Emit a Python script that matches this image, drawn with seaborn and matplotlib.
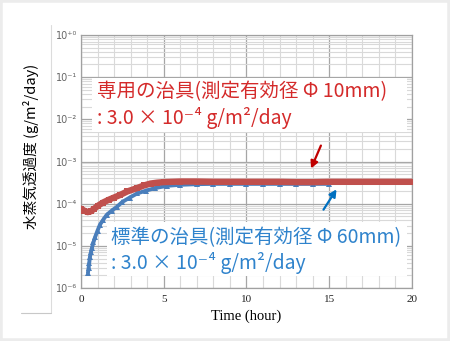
import numpy as np
import pandas as pd
import seaborn as sns
import matplotlib
matplotlib.use("Agg")
import matplotlib.pyplot as plt
from matplotlib.patches import Rectangle
from matplotlib.lines import Line2D

# ---- data ----
red_t = [0.0, 0.2, 0.4, 0.6, 0.8, 1.0, 1.3, 1.7, 2.0, 2.35, 2.8, 3.4, 3.8, 4.2, 4.6, 5.0, 5.5, 6, 7, 8, 9, 10,
         11, 12, 13, 14, 15, 16, 17, 18, 19, 20]
red_v = [7.6e-5, 6.8e-5, 6.3e-5, 6.6e-5, 7.6e-5, 8.8e-5, 1.05e-4, 1.25e-4, 1.4e-4, 1.6e-4, 1.95e-4, 2.35e-4,
         2.7e-4, 3.0e-4, 3.15e-4, 3.25e-4, 3.3e-4, 3.35e-4, 3.35e-4, 3.3e-4, 3.3e-4, 3.3e-4,
         3.3e-4, 3.3e-4, 3.25e-4, 3.25e-4, 3.3e-4, 3.3e-4, 3.3e-4, 3.3e-4, 3.3e-4, 3.3e-4]
blue_t = [0.42, 0.46, 0.5, 0.54, 0.6, 0.66, 0.75, 0.85, 1.0, 1.15, 1.35, 1.55, 1.85, 2.15, 2.5, 2.95, 3.4,
          3.95, 4.5, 5.2, 6, 7, 8, 9, 10, 11, 12, 13, 14, 15]
blue_v = [2.3e-6, 3.0e-6, 4.0e-6, 5.5e-6, 7.0e-6, 8.9e-6, 1.2e-5, 1.6e-5, 2.3e-5, 3.2e-5, 4.2e-5, 5.4e-5,
          6.8e-5, 8.3e-5, 1.1e-4, 1.4e-4, 1.75e-4, 2.05e-4, 2.35e-4, 2.65e-4, 2.8e-4, 2.9e-4, 2.95e-4,
          2.95e-4, 2.95e-4, 2.95e-4, 2.95e-4, 2.95e-4, 2.95e-4, 2.95e-4]

x_ticks = [0, 5, 10, 15, 20]
y_ticks = [1e-6, 1e-5, 1e-4, 1e-3, 1e-2, 1e-1, 1e0]
y_tick_labels = ["10⁻⁶", "10⁻⁵", "10⁻⁴", "10⁻³", "10⁻²", "10⁻¹", "10⁺⁰"]

red_line1 = "専用の治具(測定有効径 Φ 10mm)"
red_line2 = ": 3.0 × 10⁻⁴ g/m²/day"
blue_line1 = "標準の治具(測定有効径 Φ 60mm)"
blue_line2 = ": 3.0 × 10⁻⁴ g/m²/day"
x_label = "Time (hour)"
y_label = "水蒸気透過度 (g/m²/day)"

cjk = ["Noto Sans CJK JP", "DejaVu Sans"]
serif = ["Liberation Serif", "DejaVu Serif"]

sns.set_theme(style="white")
plt.rcParams["font.family"] = cjk

W, H = 450, 341
fig = plt.figure(figsize=(W / 100, H / 100), dpi=100, facecolor="white")
ax = fig.add_axes([81 / W, 1 - 288 / H, 331 / W, 253 / H])

red_df = pd.DataFrame({"t": red_t, "v": red_v})
blue_df = pd.DataFrame({"t": blue_t, "v": blue_v})

sns.lineplot(data=blue_df, x="t", y="v", ax=ax, color="#4a7ebb", lw=2.8, marker="^",
             markersize=5, markeredgewidth=0, zorder=4)
sns.lineplot(data=red_df, x="t", y="v", ax=ax, color="#c0504d", lw=4.6, marker="s",
             markersize=5, markeredgewidth=0, zorder=5)

ax.set_yscale("log")
ax.set_xlim(0, 20)
ax.set_ylim(1e-6, 1e0)
ax.set_xticks(x_ticks)
ax.set_xticklabels([str(v) for v in x_ticks], family=serif, fontsize=8, color="#222222")
ax.set_xticks(np.arange(0, 21, 1), minor=True)
ax.set_yticks(y_ticks)
ax.set_yticklabels(y_tick_labels, family=["DejaVu Sans"], fontsize=7, color="#666666")
ax.yaxis.set_minor_locator(matplotlib.ticker.LogLocator(base=10, subs=np.arange(2, 10), numticks=20))
ax.yaxis.set_minor_formatter(matplotlib.ticker.NullFormatter())
ax.tick_params(axis="both", which="both", length=0)
ax.tick_params(axis="x", pad=5)
ax.tick_params(axis="y", pad=3)

ax.grid(True, which="major", color="#a6a6a6", lw=0.9, zorder=0)
ax.grid(True, which="minor", color="#d9d9d9", lw=0.8, zorder=0)
ax.set_axisbelow(True)
for s in ax.spines.values():
    s.set_color("#a0a0a0")
    s.set_linewidth(0.9)

ax.set_xlabel(x_label, family=serif, fontsize=10.5, color="black", labelpad=4)
ax.set_ylabel(y_label, family=cjk, fontsize=10.5, color="black")
ax.yaxis.set_label_coords(-(81 - 39) / 331, 1 - (146 - 35) / 253)

# white label boxes
ax.add_patch(Rectangle((0.033, 0.617), 0.952, 0.213, transform=ax.transAxes,
                       facecolor="white", edgecolor="none", zorder=2))
ax.add_patch(Rectangle((0.0785, 0.047), 0.9065, 0.214, transform=ax.transAxes,
                       facecolor="white", edgecolor="none", zorder=2))

def fy(py):
    return 1 - (py - 35) / 253

def fx(px):
    return (px - 81) / 331

red_c = "#d42a2a"
blue_c = "#2f83cc"
ax.text(fx(97), fy(92), red_line1, transform=ax.transAxes, color=red_c, fontsize=14,
        ha="left", va="center", family=cjk, zorder=6)
ax.text(fx(97), fy(118), red_line2, transform=ax.transAxes, color=red_c, fontsize=14,
        ha="left", va="center", family=cjk, zorder=6)
ax.text(fx(111), fy(238), blue_line1, transform=ax.transAxes, color=blue_c, fontsize=14,
        ha="left", va="center", family=cjk, zorder=6)
ax.text(fx(111), fy(263), blue_line2, transform=ax.transAxes, color=blue_c, fontsize=14,
        ha="left", va="center", family=cjk, zorder=6)

# arrows
ax.annotate("", xy=(fx(310), fy(171)), xytext=(fx(322), fy(143)), xycoords="axes fraction",
            textcoords="axes fraction",
            arrowprops=dict(arrowstyle="-|>,head_length=0.35,head_width=0.18", color="#c00000", lw=1.6),
            zorder=7)
ax.annotate("", xy=(fx(338), fy(187)), xytext=(fx(322), fy(212)), xycoords="axes fraction",
            textcoords="axes fraction",
            arrowprops=dict(arrowstyle="-|>,head_length=0.35,head_width=0.18", color="#0070c0", lw=1.6),
            zorder=7)

# slide frame decorations
fig.add_artist(Rectangle((0, 0), 1, 1, transform=fig.transFigure, facecolor="none",
                         edgecolor="#ececec", lw=4))
fig.add_artist(Line2D([51 / W, 51 / W], [1 - 25 / H, 1 - 313 / H], transform=fig.transFigure,
                      color="#dcdcdc", lw=0.8))
fig.add_artist(Line2D([21 / W, 51 / W], [1 - 313 / H, 1 - 313 / H], transform=fig.transFigure,
                      color="#c8c8c8", lw=0.8))

fig.savefig("out.png", dpi=100, facecolor="white")
